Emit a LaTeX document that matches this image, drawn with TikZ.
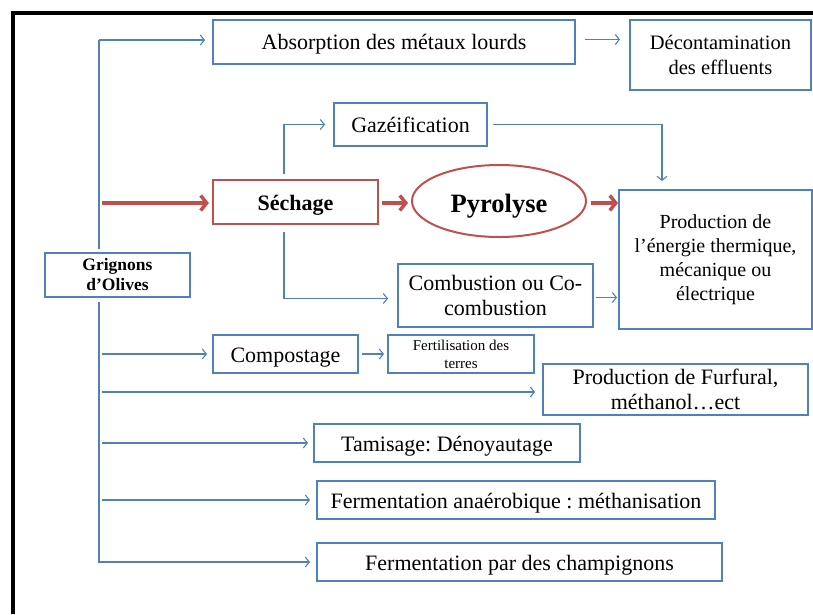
\documentclass[tikz,border=0pt]{standalone}
\usepackage{fontspec}
\setmainfont{Liberation Serif}
\usetikzlibrary{arrows.meta,shapes.geometric,calc}
\definecolor{boxblue}{HTML}{4F81BD}
\definecolor{boxred}{HTML}{C0504D}
\frenchspacing
\tikzset{
  bluebox/.style={draw=boxblue, line width=2pt, fill=white, inner sep=0pt,
    align=center, font=\fontsize{22}{25}\selectfont},
  redbox/.style={draw=boxred, line width=2.2pt, fill=white, inner sep=0pt,
    align=center, font=\bfseries\fontsize{22}{25}\selectfont},
  oneline/.style={text height=20.5pt, text depth=4.5pt},
  link/.style={draw=boxblue, line width=1.1pt},
  linkarrow/.style={link, -{Straight Barb[length=4pt,width=10pt]}},
  bigarrow/.style={draw=boxred, line width=3.5pt, -{Straight Barb[length=6pt,width=15pt]}}
}
\begin{document}
\begin{tikzpicture}[x=1pt,y=-1pt]
\useasboundingbox (0,0) rectangle (813,614);
\fill[white] (0,0) rectangle (813,614);

% frame
\draw[line width=3.5pt] (13,614) -- (13,13) -- (813,13);

% boxes
\node[bluebox, oneline, minimum width=362, minimum height=44] (absorb) at (394,41.5) {Absorption des métaux lourds};
\node[bluebox, minimum width=181, minimum height=70, font=\fontsize{20.5}{25}\selectfont] (decont) at (720.5,54.5) {Décontamination\\des effluents};
\node[bluebox, oneline, minimum width=153, minimum height=43] (gaz) at (410.5,124.5) {Gazéification};
\node[redbox, oneline, minimum width=165, minimum height=44] (sech) at (295.5,202) {Séchage};
\node[ellipse, draw=boxred, line width=2pt, fill=white, inner sep=0pt, minimum width=174, minimum height=72,
      text height=26pt, text depth=4pt,
      font=\bfseries\fontsize{26.5}{30}\selectfont] (pyro) at (499,201) {Pyrolyse};
\node[bluebox, minimum width=193, minimum height=139, font=\fontsize{20}{24}\selectfont] (prod) at (715.5,259.5)
  {Production de\\l’énergie thermique,\\mécanique ou\\électrique};
\node[bluebox, minimum width=195, minimum height=63] (comb) at (495.5,295.5) {Combustion ou Co-\\combustion};
\node[bluebox, minimum width=145, minimum height=44, font=\bfseries\fontsize{17.5}{20}\selectfont] (grig) at (117.5,275) {Grignons\\d’Olives};
\node[bluebox, oneline, minimum width=145, minimum height=38] (compost) at (285.5,354) {Compostage};
\node[bluebox, minimum width=146, minimum height=38, font=\fontsize{15}{18}\selectfont] (fert) at (461,354) {Fertilisation des\\terres};
\node[bluebox, minimum width=265, minimum height=51] (furf) at (675.5,389.5) {Production de Furfural,\\méthanol…ect};
\node[bluebox, oneline, minimum width=266, minimum height=38] (tamis) at (447,443) {Tamisage: Dénoyautage};
\node[bluebox, oneline, minimum width=398, minimum height=38] (ferm1) at (516,500) {Fermentation anaérobique : méthanisation};
\node[bluebox, oneline, minimum width=405, minimum height=38] (ferm2) at (519.5,562) {Fermentation par des champignons};

% trunk from the olive residue
\coordinate (tt) at (99,40);
\coordinate (tb) at (99,562);
\draw[linkarrow, shorten >=7pt] (tt) -- (tt -| absorb.west);
\draw[link] (tt) -- ($(grig.north -| tt)+(0,-3)$);
\draw[linkarrow, shorten >=6pt] ($(grig.south -| tt)+(0,4)$) -- (tb) -- (ferm2.west);

% branches
\draw[bigarrow, shorten <=3pt, shorten >=3pt] ($(tt |- sech.west)+(0,1)$) -- ($(sech.west)+(0,1)$);
\draw[linkarrow, shorten <=3pt, shorten >=5pt] (tt |- compost.west) -- (compost.west);
\draw[linkarrow, shorten <=3pt, shorten >=7pt] ($(tt |- furf.west)+(0,2.5)$) -- ($(furf.west)+(0,2.5)$);
\draw[linkarrow, shorten <=3pt, shorten >=5pt] (tt |- tamis.west) -- (tamis.west);
\draw[linkarrow, shorten <=3pt, shorten >=6pt] (tt |- ferm1.west) -- (ferm1.west);

% drying outputs
\draw[linkarrow, shorten <=5pt, shorten >=8pt] ($(sech.north)+(-11.5,0)$) |- (gaz.west);
\draw[linkarrow, shorten <=7pt, shorten >=9pt] ($(sech.south)+(-11.5,0)$) |- ($(comb.west)+(0,3)$);
\draw[bigarrow, shorten <=3pt, shorten >=3pt] ($(sech.east)+(0,1)$) -- ($(sech.east -| pyro.west)+(0,1)$);
\draw[bigarrow, shorten <=4pt, shorten >=0pt] ($(pyro.east)+(0,2)$) -- ($(pyro.east -| prod.west)+(0,2)$);

% to energy production
\draw[linkarrow, shorten <=5pt, shorten >=8pt] (gaz.east) -| ($(prod.north west)+(44,0)$);
\draw[linkarrow, shorten <=2pt, shorten >=1pt] ($(comb.east)+(0,2)$) -- ($(comb.east -| prod.west)+(0,2)$);

% other follow-ups
\draw[linkarrow, shorten <=9pt, shorten >=9pt] ($(absorb.east)+(0,-2)$) -- ($(absorb.east -| decont.west)+(0,-2)$);
\draw[linkarrow, shorten <=3pt, shorten >=3pt] (compost.east) -- (fert.west);
\end{tikzpicture}
\end{document}
